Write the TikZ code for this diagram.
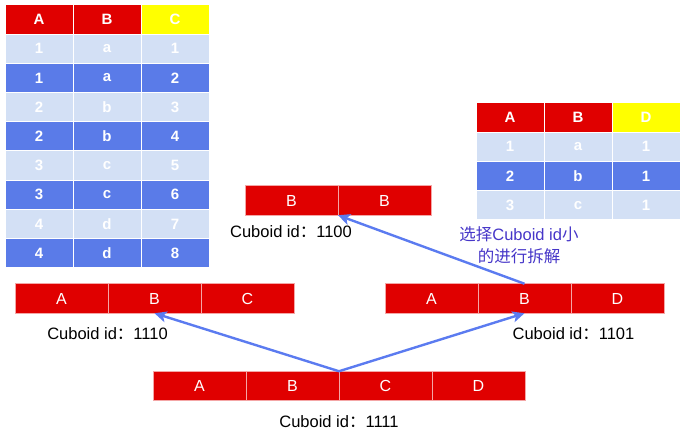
\documentclass[tikz,border=0pt]{standalone}
\usepackage{fontspec}
\setmainfont{Liberation Sans}
\newfontfamily\cjk{Noto Sans CJK SC}
\usetikzlibrary{arrows.meta, positioning}
\definecolor{cellRed}{HTML}{E00000}
\definecolor{headYellow}{HTML}{FFFF00}
\definecolor{rowlite}{HTML}{D3E0F5}
\definecolor{rowdark}{HTML}{5A7BE8}
\definecolor{arrowBlue}{HTML}{5B7BF0}
\definecolor{noteBlue}{HTML}{4636C8}

\begin{document}
\begin{tikzpicture}[x=1pt, y=-1pt,
        cell/.style={draw=white, line width=1pt, inner sep=0pt, outer sep=0pt,
            minimum width=68pt, minimum height=29.2pt, text=white,
            font=\fontsize{15}{17}\selectfont\bfseries},
        cub/.style={draw=white!65!cellRed, fill=cellRed, line width=0.8pt, inner sep=0pt,
            outer sep=0pt, minimum width=93pt, minimum height=29.5pt, text=white,
            font=\fontsize{16}{18}\selectfont},
        lbl/.style={font=\fontsize{16.5}{18}\selectfont, inner sep=0pt},
        note/.style={font=\fontsize{16.5}{22}\selectfont\cjk, text=noteBlue, align=center, inner sep=0pt},
        link/.style={-{Stealth[length=12pt, width=11pt, inset=3pt]}, arrowBlue, line width=2.4pt}
    ]
        \useasboundingbox (0,0) rectangle (686,441);

        % table A B C
        \node[cell, fill=cellRed] (ta) at (39,19.6) {A};
        \node[cell, fill=cellRed] (tb) at (107,19.6) {B};
        \node[cell, fill=headYellow] (tc) at (175,19.6) {C};
        \foreach \s/\a/\b/\c [count=\i] in {lite/1/a/1, dark/1/a/2, lite/2/b/3, dark/2/b/4,
                lite/3/c/5, dark/3/c/6, lite/4/d/7, dark/4/d/8} {
            \node[cell, fill=row\s] (ta\i) at (39,{19.6+29.2*\i}) {\a};
            \node[cell, fill=row\s] (tb\i) at (107,{19.6+29.2*\i}) {\b};
            \node[cell, fill=row\s] (tc\i) at (175,{19.6+29.2*\i}) {\c};
        }

        % table A B D
        \node[cell, fill=cellRed] (ua) at (510,117.6) {A};
        \node[cell, fill=cellRed] (ub) at (578,117.6) {B};
        \node[cell, fill=headYellow] (ud) at (646,117.6) {D};
        \foreach \s/\a/\b/\d [count=\i] in {lite/1/a/1, dark/2/b/1, lite/3/c/1} {
            \node[cell, fill=row\s] (ua\i) at (510,{117.6+29.2*\i}) {\a};
            \node[cell, fill=row\s] (ub\i) at (578,{117.6+29.2*\i}) {\b};
            \node[cell, fill=row\s] (ud\i) at (646,{117.6+29.2*\i}) {\d};
        }

        % cuboid 1100
        \node[cub] (s1) at (291.5,200.5) {B};
        \node[cub, right=0pt of s1] (s2) {B};
        \node[lbl] (ls) at (291,232) {Cuboid id{\cjk ：}1100};

        % cuboid 1110
        \node[cub] (p1) at (61.5,298.5) {A};
        \node[cub, right=0pt of p1] (p2) {B};
        \node[cub, right=0pt of p2] (p3) {C};
        \node[lbl] (lp) at (107.5,334) {Cuboid id{\cjk ：}1110};

        % cuboid 1101
        \node[cub] (r1) at (431.5,298.5) {A};
        \node[cub, right=0pt of r1] (r2) {B};
        \node[cub, right=0pt of r2] (r3) {D};
        \node[lbl] (lr) at (573.5,334) {Cuboid id{\cjk ：}1101};

        % cuboid 1111
        \node[cub] (q1) at (199.5,386) {A};
        \node[cub, right=0pt of q1] (q2) {B};
        \node[cub, right=0pt of q2] (q3) {C};
        \node[cub, right=0pt of q3] (q4) {D};
        \node[lbl] (lq) at (339,422) {Cuboid id{\cjk ：}1111};

        \node[note] (nt) at (519,245) {选择{\rmfamily Cuboid id}小\\的进行拆解};

        \draw[link] (q2.north east) -- (p2.south);
        \draw[link] (q2.north east) -- (r2.south);
        \draw[link] (r2.north) -- (s1.south east);
    \end{tikzpicture}
\end{document}
